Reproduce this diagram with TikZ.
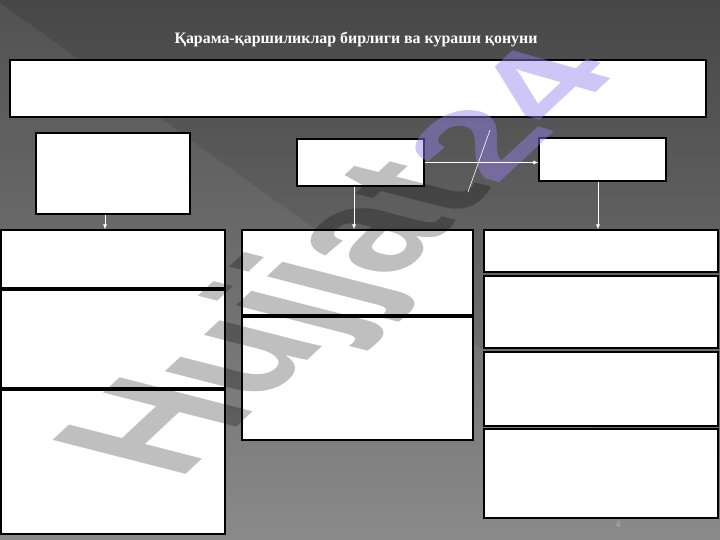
\documentclass[tikz,border=0pt]{standalone}
\usepackage{fontspec}
\setmainfont{Liberation Serif}
\newfontfamily\wmfont{Liberation Sans}
\usetikzlibrary{arrows.meta}
\definecolor{bgtop}{HTML}{474747}
\definecolor{bgbot}{HTML}{838383}
\definecolor{wmpurple}{RGB}{150,130,240}
\tikzset{
  box/.style={draw=black, line width=1.3pt, fill=white, inner sep=0pt},
  arr/.style={draw=white, line width=0.7pt, -{Latex[length=5pt,width=4pt]}},
  wm/.style={font=\wmfont\bfseries\fontsize{150}{150}\selectfont, inner sep=0pt, transform shape},
}
\begin{document}
\begin{tikzpicture}[x=1pt,y=-1pt]
\useasboundingbox (0,0) rectangle (720,540);
% background
\shade[top color=bgtop, bottom color=bgbot] (0,0) rectangle (720,540);
\fill[white, opacity=0.06] (0,3) -- (720,520) -- (720,540) -- (0,540) -- cycle;
% title
\node[text=white, font=\bfseries\fontsize{15.9}{18}\selectfont] (title) at (356,40) {Қарама-қаршиликлар бирлиги ва кураши қонуни};
% boxes
\node[box, minimum width=696, minimum height=57] (top) at (358,88.5) {};
\node[box, minimum width=154, minimum height=81] (A) at (113,173.5) {};
\node[box, minimum width=127, minimum height=47] (B) at (360.5,162.5) {};
\node[box, minimum width=127, minimum height=43] (C) at (602.5,159.5) {};
\node[box, minimum width=224, minimum height=58] (L1) at (113,259) {};
\node[box, minimum width=224, minimum height=98] (L2) at (113,339) {};
\node[box, minimum width=224, minimum height=144] (L3) at (113,462) {};
\node[box, minimum width=231, minimum height=85] (M1) at (357.5,272.5) {};
\node[box, minimum width=231, minimum height=123] (M2) at (357.5,378.5) {};
\node[box, minimum width=234, minimum height=42] (R1) at (601,251) {};
\node[box, minimum width=234, minimum height=72] (R2) at (601,312) {};
\node[box, minimum width=234, minimum height=74] (R3) at (601,389) {};
\node[box, minimum width=234, minimum height=89] (R4) at (601,473.5) {};
% watermark
\coordinate (wmstart) at (178,482);
\coordinate (wmmid) at (495,187);
\node[wm, cm={0.76,0.71,-1.29,0.33,(0,0)}, anchor=base west, text=black, text opacity=0.25] (wm1) at (wmstart) {Hujjat};
\node[wm, cm={0.76,0.71,-0.95,0.27,(0,0)}, anchor=base west, text=wmpurple, text opacity=0.45] (wm2) at (wmmid) {24};
% connectors
\draw[arr] ([xshift=-8pt]A.south) -- ([xshift=-8pt]A.south |- L1.north);
\draw[arr] ([xshift=-6.5pt]B.south) -- ([xshift=-6.5pt]B.south |- M1.north);
\draw[arr] ([xshift=-4.5pt]C.south) -- ([xshift=-4.5pt]C.south |- R1.north);
\draw[arr] (B.east) -- (B.east -| C.west);
\coordinate (s1) at (490,130);
\coordinate (s2) at (468,192);
\draw[white, line width=0.6pt] (s1) -- (s2);
% page number
\node[text=black!30, font=\wmfont\fontsize{9}{10}\selectfont] (pg) at (618,524) {4};
\end{tikzpicture}
\end{document}
